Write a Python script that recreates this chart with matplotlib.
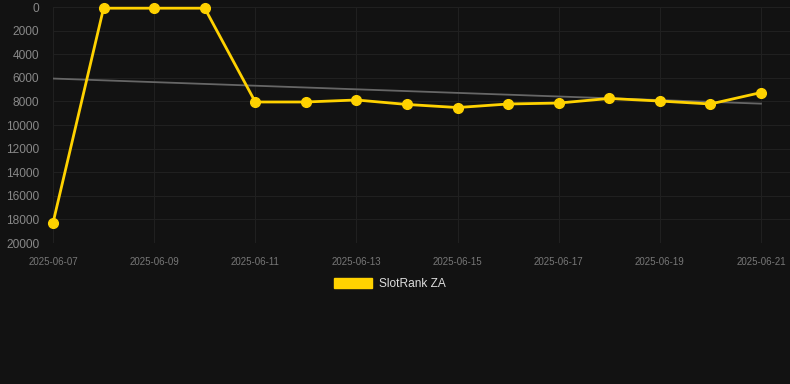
import numpy as np
import matplotlib
matplotlib.use("Agg")
import matplotlib.pyplot as plt
import matplotlib.dates as mdates
from matplotlib.patches import Patch
from datetime import datetime

# Data
dates = ["2025-06-07", "2025-06-08", "2025-06-09", "2025-06-10", "2025-06-11",
         "2025-06-12", "2025-06-13", "2025-06-14", "2025-06-15", "2025-06-16",
         "2025-06-17", "2025-06-18", "2025-06-19", "2025-06-20", "2025-06-21"]
ranks = [18300, 100, 100, 100, 8050, 8050, 7880, 8260, 8520, 8220,
         8140, 7750, 7970, 8220, 7250]
series_name = "SlotRank ZA"

x = [datetime.strptime(d, "%Y-%m-%d") for d in dates]
xn = mdates.date2num(x)

# linear trend through the points
coef = np.polyfit(xn - xn[0], ranks, 1)
trend = np.polyval(coef, xn - xn[0])

plt.rcParams['font.family'] = ['Liberation Sans', 'DejaVu Sans']
bg = "#121212"
gold = "#FFD200"

fig = plt.figure(figsize=(7.9, 3.84), dpi=100, facecolor=bg)
ax = fig.add_axes([53 / 790, 1 - 243 / 384, (790 - 53) / 790, (243 - 7) / 384])
ax.set_facecolor(bg)

ax.plot(xn, trend, color="#666666", linewidth=1.3, zorder=2)
ax.plot(xn, ranks, color=gold, linewidth=2.0, marker="o", markersize=7,
        markerfacecolor=gold, markeredgecolor=gold, zorder=3, clip_on=False)

# x range: first date at px 53, last at px 761
px_per_day = (761 - 53) / 14
ax.set_xlim(xn[0], xn[-1] + 29 / px_per_day)
ax.set_ylim(20000, 0)

ax.set_xticks(xn[::2])
ax.set_xticklabels(dates[::2], fontsize=7, color="#777777")
ax.set_yticks(np.arange(0, 20001, 2000))
ax.set_yticklabels([str(v) for v in range(0, 20001, 2000)], fontsize=8.6, color="#888888")

ax.grid(True, color="#202020", linewidth=0.8)
ax.set_axisbelow(True)
for s in ax.spines.values():
    s.set_visible(False)
ax.tick_params(axis="both", length=0)
ax.tick_params(axis="y", pad=10)
ax.tick_params(axis="x", pad=10)

handle = Patch(facecolor=gold, edgecolor=gold)
fig.legend([handle], [series_name], loc="center", bbox_to_anchor=(390 / 790, 1 - 284 / 384),
           frameon=False, fontsize=8.6, labelcolor="#dddddd",
           handlelength=3.2, handleheight=0.9, handletextpad=0.6)

fig.savefig("out.png", dpi=100, facecolor=bg)
